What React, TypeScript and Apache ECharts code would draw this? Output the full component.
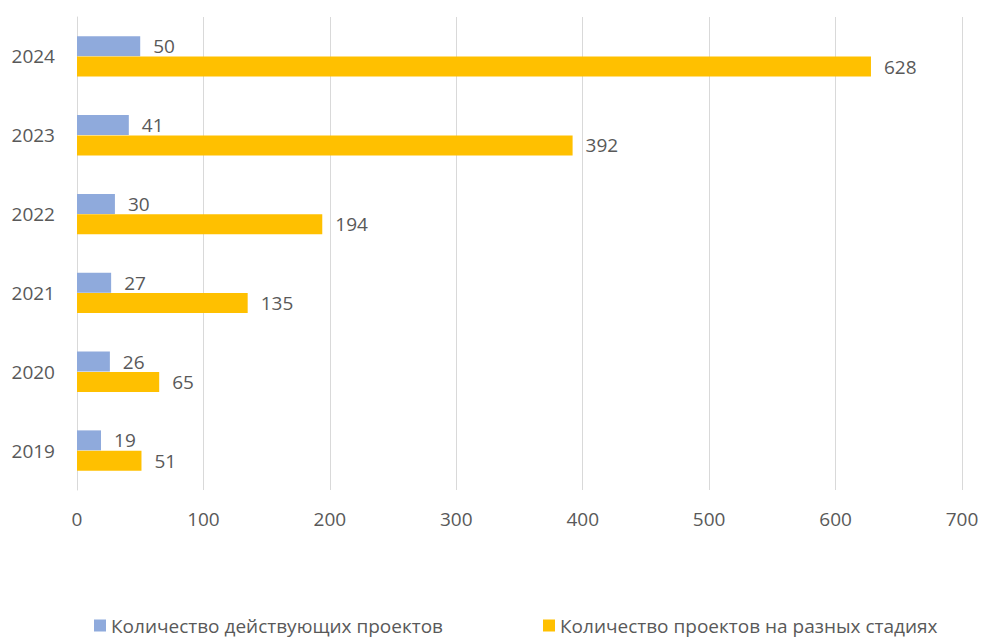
import React, { useEffect, useRef } from "react";
import * as echarts from "echarts";

const years = ["2019", "2020", "2021", "2022", "2023", "2024"];
const activeProjects = [19, 26, 27, 30, 41, 50];
const stageProjects = [51, 65, 135, 194, 392, 628];
const seriesNames = ["Количество действующих проектов", "Количество проектов на разных стадиях"];

const FONT = "'Open Sans', sans-serif";
const TXT = "#595959";
const FS = 19;

export default function App() {
  const ref = useRef<HTMLDivElement>(null);
  useEffect(() => {
    const chart = echarts.init(ref.current!, undefined, { renderer: "svg" });
    chart.setOption({
      animation: false,
      textStyle: { fontFamily: FONT },
      grid: { left: 77, right: 21, top: 17, bottom: 151 },
      legend: {
        data: seriesNames,
        left: 89,
        top: 611,
        itemWidth: 12,
        itemHeight: 12,
        itemGap: 100,
        icon: "rect",
        textStyle: { color: TXT, fontSize: 19, fontFamily: FONT },
      },
      xAxis: {
        type: "value",
        min: 0,
        max: 700,
        interval: 100,
        axisLine: { show: false },
        axisTick: { show: false },
        axisLabel: { color: TXT, fontSize: FS, margin: 19, fontFamily: FONT },
        splitLine: { lineStyle: { color: "#D9D9D9", width: 1 } },
      },
      yAxis: {
        type: "category",
        data: years,
        axisLine: { show: true, lineStyle: { color: "#D9D9D9" } },
        axisTick: { show: false },
        axisLabel: { color: TXT, fontSize: FS, margin: 22, fontFamily: FONT },
      },
      series: [
        {
          name: seriesNames[0],
          type: "bar",
          data: activeProjects,
          barWidth: 20,
          barGap: "2%",
          itemStyle: { color: "#8FAADC" },
          label: { show: true, position: "right", distance: 13, color: TXT, fontSize: FS, fontFamily: FONT },
        },
        {
          name: seriesNames[1],
          type: "bar",
          data: stageProjects,
          barWidth: 20,
          itemStyle: { color: "#FFC000" },
          label: { show: true, position: "right", distance: 13, color: TXT, fontSize: FS, fontFamily: FONT },
        },
      ],
    });
    return () => chart.dispose();
  }, []);
  return <div ref={ref} style={{ width: 983, height: 641, position: "absolute", left: 0, top: 0 }} />;
}
